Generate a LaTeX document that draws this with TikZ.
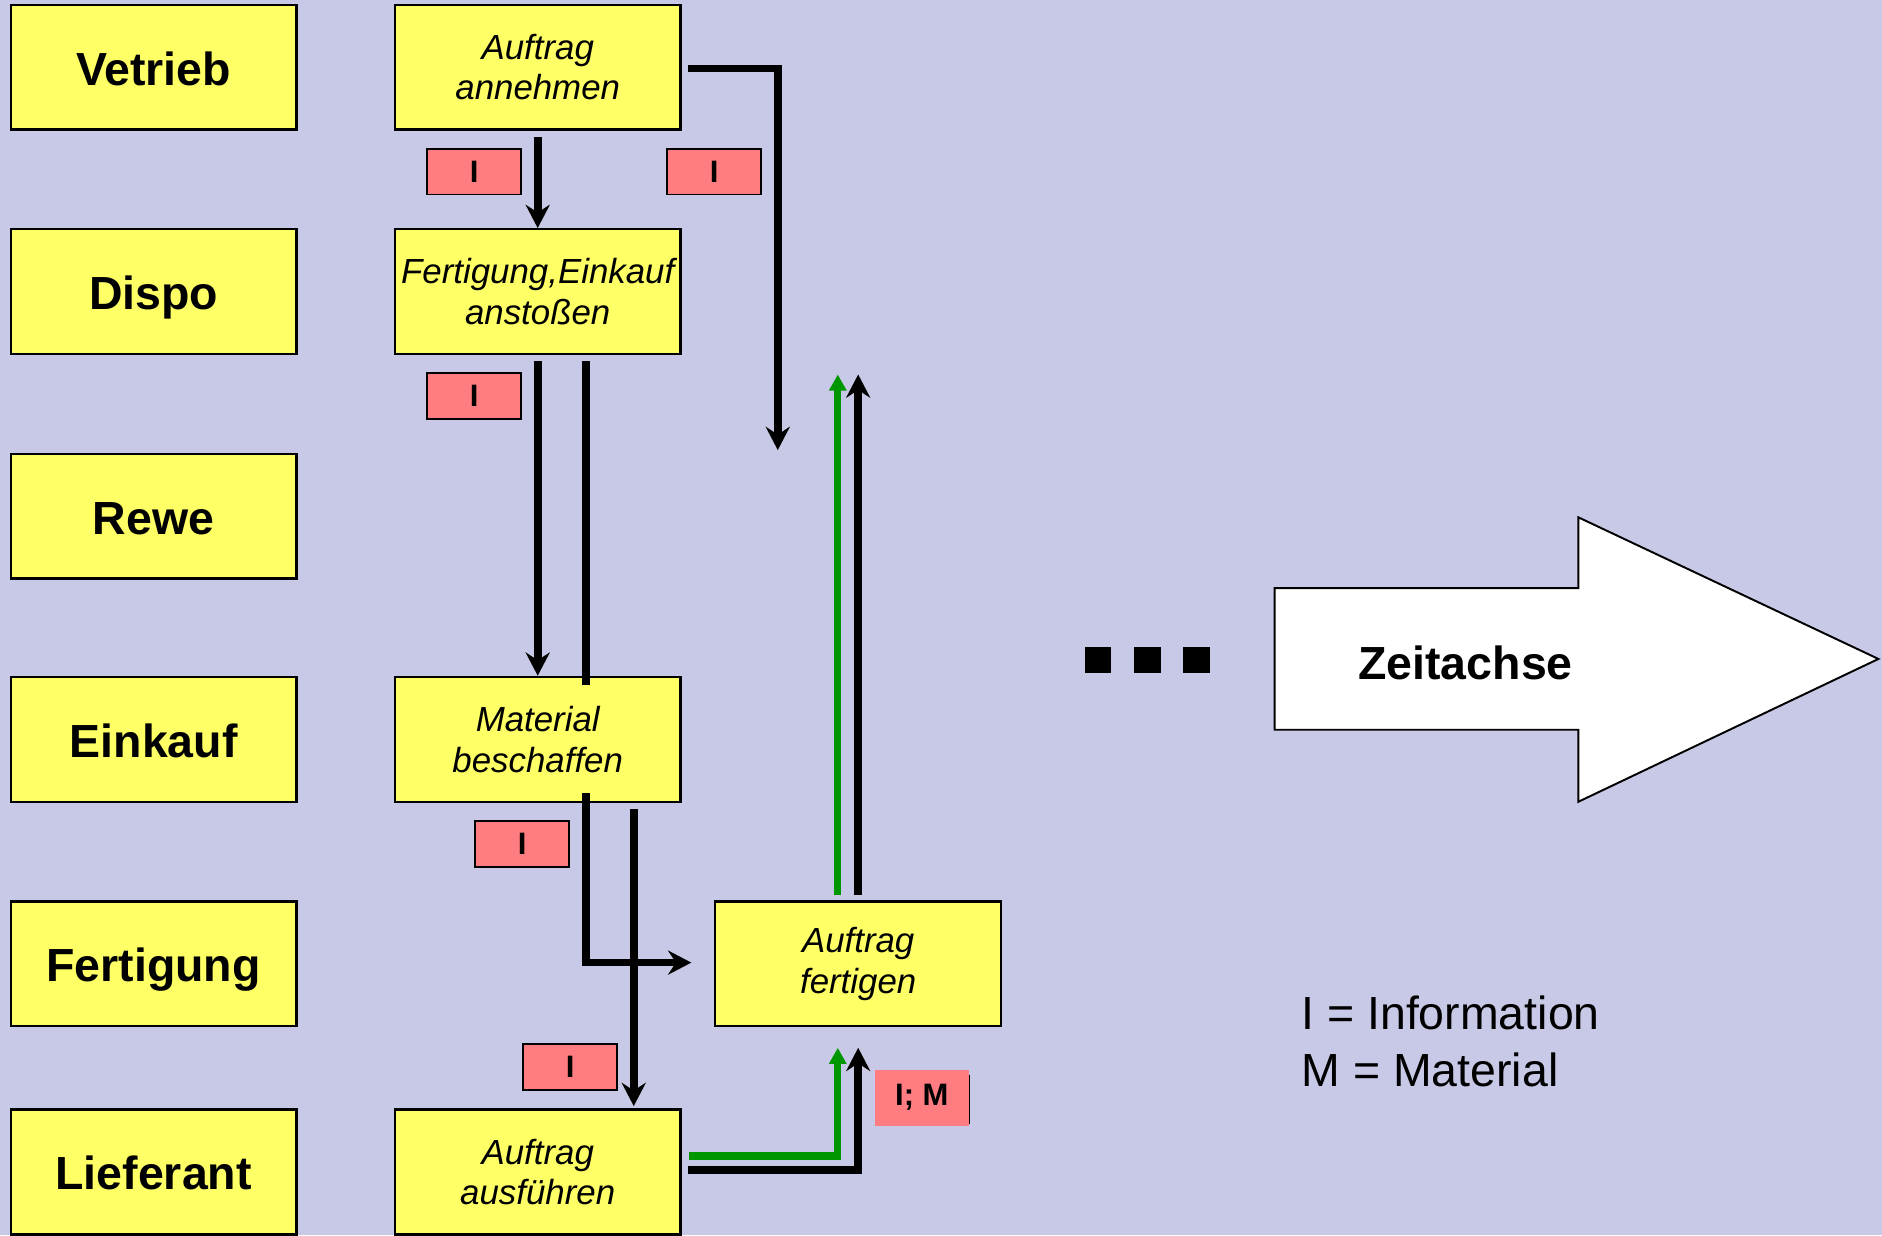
\documentclass[tikz,border=0pt]{standalone}
\usepackage{fontspec}
\setmainfont{Liberation Sans}
\usepackage{tikz}
\usetikzlibrary{positioning,calc,arrows.meta}

\definecolor{bgblue}{RGB}{200,201,230}
\definecolor{boxyellow}{RGB}{255,255,102}
\definecolor{tagred}{RGB}{255,124,128}
\definecolor{matgreen}{RGB}{0,150,0}

\begin{document}
\begin{tikzpicture}[x=0.62pt, y=-0.62pt,
    lane box/.style={draw, fill=boxyellow, line width=1.2pt, minimum width=147.6pt, minimum height=64.5pt, inner sep=2pt, text height=20pt, text depth=1.5pt, font=\bfseries\fontsize{24}{28}\selectfont},
    task box/.style={lane box, align=center, text height=, text depth=, font=\itshape\fontsize{18}{21}\selectfont},
    info tag/.style={draw, fill=tagred, line width=1pt, minimum width=48.4pt, minimum height=23.6pt, inner sep=1pt, font=\bfseries\fontsize{16}{19}\selectfont},
    flow/.style={line width=4pt, -{Stealth[length=12pt, width=12.4pt, inset=4pt]}},
    matflow/.style={matgreen, line width=3.8pt, -{Triangle[length=8.3pt, width=8.6pt]}},
    wire/.style={line width=4pt}]
    \fill[bgblue] (0,0) rectangle (1568,1029);
    \useasboundingbox (0,0) rectangle (1568,1029);

    % Abteilungen
    \node[lane box] (vertrieb) at (128,56) {Vetrieb};
    \node[lane box] (dispo) at (128,243) {Dispo};
    \node[lane box] (rewe) at (128,430) {Rewe};
    \node[lane box] (einkauf) at (128,616) {Einkauf};
    \node[lane box] (fertigung) at (128,803) {Fertigung};
    \node[lane box] (lieferant) at (128,976.5) {Lieferant};

    % Taetigkeiten
    \node[task box] (annehmen) at (448,56) {Auftrag\\annehmen};
    \node[task box] (anstossen) at (448,243) {Fertigung,Einkauf\\anstoßen};
    \node[task box] (beschaffen) at (448,616) {Material\\beschaffen};
    \node[task box] (fertigen) at (715,803) {Auftrag\\fertigen};
    \node[task box] (ausfuehren) at (448,976.5) {Auftrag\\ausführen};

    % Kennzeichen
    \node[info tag] (tagA) at (395,143) {I};
    \node[info tag] (tagB) at (595,143) {I};
    \node[info tag] (tagC) at (395,330) {I};
    \node[info tag] (tagD) at (435,703) {I};
    \node[info tag] (tagE) at (475,889) {I};
    \node[info tag, draw=none, minimum height=29pt] (lmtag) at (768,914.5) {I; M};
    \draw[line width=0.8pt] ($(lmtag.north east)+(0,5)$) -- ($(lmtag.south east)+(0,-2)$);

    \coordinate (vEnd) at (648,375);
    \coordinate (upEnd) at (715,312);

    \draw[flow] ($(annehmen.south)+(0,5)$) -- (anstossen.north);
    \draw[flow] ($(annehmen.east)+(5,1)$) -| (vEnd);
    \draw[flow] ($(anstossen.south)+(0,5)$) -- (beschaffen.north);
    \draw[wire] ($(anstossen.south)+(40,5)$) -- ($(beschaffen.north)+(40,8)$);
    \draw[flow] ($(beschaffen.south)+(40,-8)$) |- ($(fertigen.west)+(-19,-1)$);
    \draw[flow] ($(beschaffen.south)+(80,5)$) -- ($(ausfuehren.north)+(80,-2)$);
    \draw[matflow] ($(ausfuehren.east)+(6,-13.5)$) -| ($(fertigen.south)+(-17,17)$);
    \draw[flow] ($(ausfuehren.east)+(5,-1.5)$) -| ($(fertigen.south)+(0,17)$);
    \draw[matflow] ($(fertigen.north)+(-17,-4)$) -- ($(upEnd)+(-17,0)$);
    \draw[flow] ($(fertigen.north)+(0,-4)$) -- (upEnd);

    % Zeitachse
    \fill (904,539) rectangle (926,561);
    \fill (945,539) rectangle (967,561);
    \fill (986,539) rectangle (1008,561);
    \draw[fill=white, line width=1pt] (1062,490) -- (1315,490) -- (1315,431) -- (1565,549) -- (1315,668) -- (1315,608) -- (1062,608) -- cycle;
    \node[font=\bfseries\fontsize{24}{28}\selectfont] (zeit) at (1221,552) {Zeitachse};

    \node[anchor=north west, align=left, inner sep=0pt, font=\fontsize{24}{29.8}\selectfont] (legende) at (1084,829) {I = Information\\M = Material};
\end{tikzpicture}
\end{document}
